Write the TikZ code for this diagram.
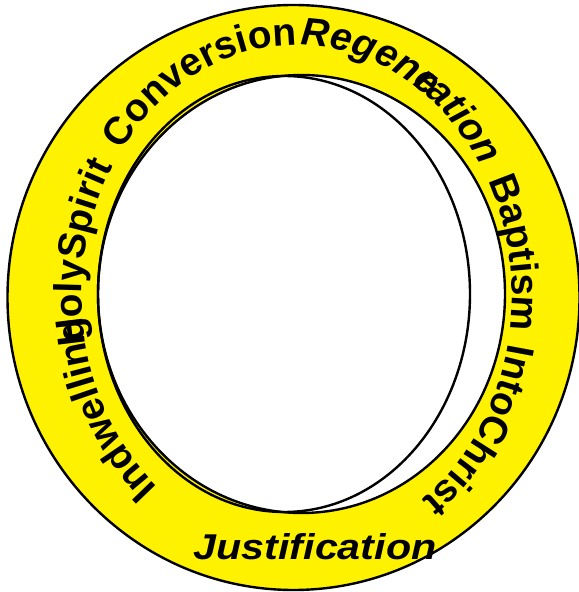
\documentclass[tikz,border=0pt]{standalone}
\usepackage{fontspec}
\setmainfont{Liberation Sans}
\usetikzlibrary{decorations.text}
\newcommand\ringfont{\fontsize{39}{42}\selectfont\bfseries}
\newcommand\ringitfont{\fontsize{39}{42}\selectfont\bfseries\itshape}
% #1 start angle, #2 format, #3 word (text starts at the start angle, runs clockwise)
\newcommand\ringword[3]{%
  \path[decorate, decoration={text along path, text={|#2|#3}, text align=left}]
    (297,296) ++({#1}:215 and 251)
    arc[start angle={#1}, end angle={#1-75}, x radius=215, y radius=251];}
\begin{document}
\begin{tikzpicture}[x=1bp,y=1bp,
  ringline/.style={draw=black, line width=2.4bp}]
\useasboundingbox (0,0) rectangle (579,592);
% yellow ring
\path[ringline, fill=yellow] (293.5,294.5) ellipse[x radius=286, y radius=292.5];
\path[ringline, fill=white] (301.5,298) ellipse[x radius=203.5, y radius=219];
\path[ringline] (284,298) ellipse[x radius=186, y radius=218];
% texts along the ring
\ringword{229.7}{\ringfont}{Indwelling}
\ringword{191.25}{\ringfont}{Holy}
\ringword{171.9}{\ringfont}{Spirit}
\ringword{144.5}{\ringfont}{Conversion}
\ringword{89}{\ringitfont}{Regene}
\ringword{57.5}{\ringitfont}{ration}
\ringword{27.4}{\ringfont}{Baptism}
\ringword{-11}{\ringfont}{Into}
\ringword{-27.3}{\ringfont}{Christ}
% straight text at the bottom
\node (just) [font=\fontsize{36}{40}\selectfont\bfseries\itshape, xscale=1.15, anchor=base, inner sep=0pt] at (315,32) {Justification};
\end{tikzpicture}
\end{document}
